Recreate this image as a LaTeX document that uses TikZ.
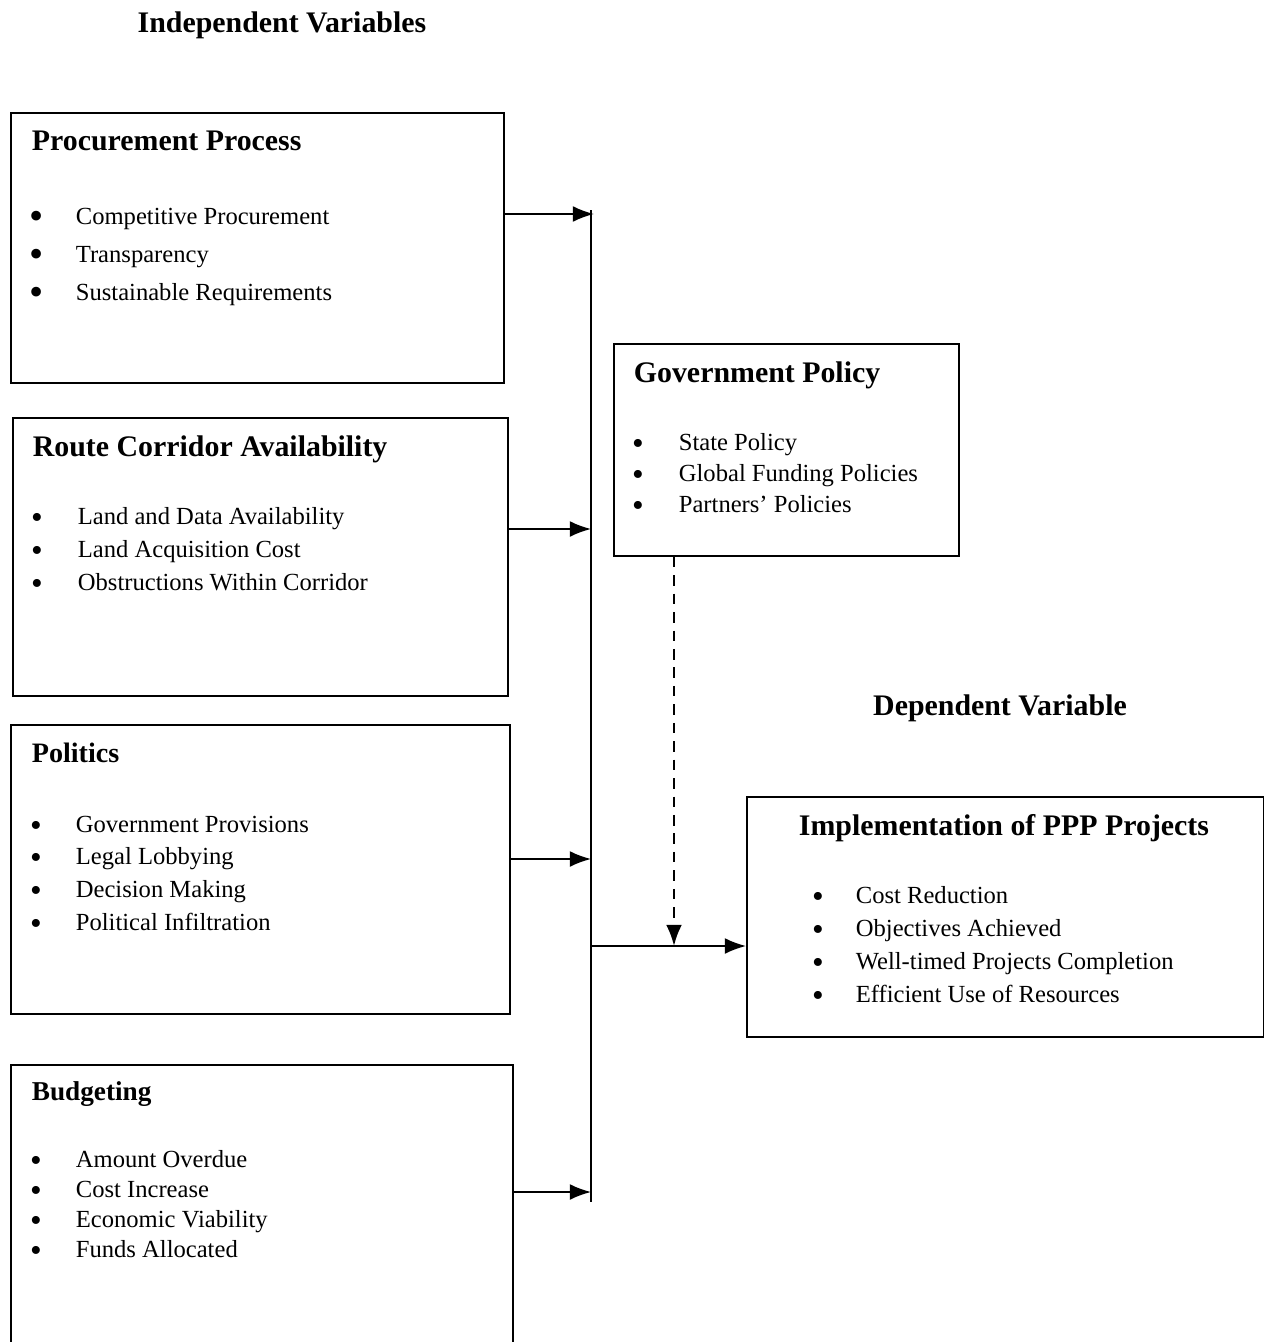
\documentclass[tikz,border=0pt]{standalone}
\usepackage{fontspec}
\setmainfont{Liberation Serif}
\usetikzlibrary{arrows.meta}
\begin{document}
\begin{tikzpicture}[x=0.02cm, y=-0.02cm, line width=1pt,
  box/.style={draw, anchor=north west, inner sep=0pt},
  head/.style={anchor=base west, inner sep=0pt, font=\fontsize{17}{20}\selectfont\bfseries},
  txt/.style={anchor=base west, inner sep=0pt, font=\fontsize{14}{17}\selectfont},
  dot/.style={anchor=base, inner sep=0pt, font=\fontsize{19}{20}\selectfont},
  arr/.style={-{Latex[length=12pt,width=9pt]}}]
\useasboundingbox (0,0) rectangle (1264,1342);
% titles
\node[head, anchor=base] (indep) at (282,32) {Independent Variables};
\node[head, anchor=base] (dep) at (1000,715) {Dependent Variable};
% boxes
\node[box, minimum width=9.86cm, minimum height=5.4cm] (proc) at (10,112) {};
\node[box, minimum width=9.9cm, minimum height=5.56cm] (route) at (12,417) {};
\node[box, minimum width=9.98cm, minimum height=5.78cm] (pol) at (10,724) {};
\node[box, minimum width=10.04cm, minimum height=5.8cm] (budget) at (10,1064) {};
\node[box, minimum width=6.9cm, minimum height=4.24cm] (gov) at (613,343) {};
\node[box, minimum width=10.34cm, minimum height=4.8cm] (impl) at (746,796) {};
% box headings
\node[head] (procH) at (31,150) {Procurement Process};
\node[head] (routeH) at (32,456) {Route Corridor Availability};
\node[head, font=\fontsize{16}{19}\selectfont\bfseries] (polH) at (31,762) {Politics};
\node[head, font=\fontsize{15.5}{19}\selectfont\bfseries] (budgetH) at (31,1100) {Budgeting};
\node[head] (govH) at (633,382) {Government Policy};
\node[head, anchor=base] (implH) at (1004,835) {Implementation of PPP Projects};
% bullet lists
\foreach \t [count=\i] in {Competitive Procurement, Transparency, Sustainable Requirements} {
  \node[dot, font=\fontsize{23}{24}\selectfont] (procD\i) at (37,229+38*\i-38) {•};
  \node[txt] (procL\i) at (75,224+38*\i-38) {\t};
}
\foreach \t [count=\i] in {Land and Data Availability, Land Acquisition Cost, Obstructions Within Corridor} {
  \node[dot] (routeD\i) at (37,528+33*\i-33) {•};
  \node[txt] (routeL\i) at (77,524+33*\i-33) {\t};
}
\foreach \t [count=\i] in {Government Provisions, Legal Lobbying, Decision Making, Political Infiltration} {
  \node[dot] (polD\i) at (36,836+32.7*\i-32.7) {•};
  \node[txt] (polL\i) at (75,832+32.7*\i-32.7) {\t};
}
\foreach \t [count=\i] in {Amount Overdue, Cost Increase, Economic Viability, Funds Allocated} {
  \node[dot] (budgetD\i) at (36,1171+30.3*\i-30.3) {•};
  \node[txt] (budgetL\i) at (75,1167+30.3*\i-30.3) {\t};
}
\foreach \t [count=\i] in {State Policy, Global Funding Policies, Partners’ Policies} {
  \node[dot] (govD\i) at (638,454+31*\i-31) {•};
  \node[txt] (govL\i) at (678,450+31*\i-31) {\t};
}
\foreach \t [count=\i] in {Cost Reduction, Objectives Achieved, Well-timed Projects Completion, Efficient Use of Resources} {
  \node[dot] (implD\i) at (818,907+33*\i-33) {•};
  \node[txt] (implL\i) at (855,903+33*\i-33) {\t};
}
% connectors
\coordinate (bustop) at (591,210);
\coordinate (busbot) at (591,1202);
\coordinate (in1) at (594,214);
\coordinate (in2) at (591,529);
\coordinate (in3) at (591,859);
\coordinate (in4) at (591,1192);
\coordinate (out) at (591,946);
\coordinate (meet) at (674,946);
\draw (bustop) -- (busbot);
\draw[arr] (proc.east |- in1) -- (in1);
\draw[arr] (route.east |- in2) -- (in2);
\draw[arr] (pol.east |- in3) -- (in3);
\draw[arr] (budget.east |- in4) -- (in4);
\draw[arr] (out) -- (impl.west |- out);
\draw[arr, line width=1.4pt, dash pattern=on 6pt off 4.5pt] (gov.south -| meet) -- (meet);
\end{tikzpicture}
\end{document}
